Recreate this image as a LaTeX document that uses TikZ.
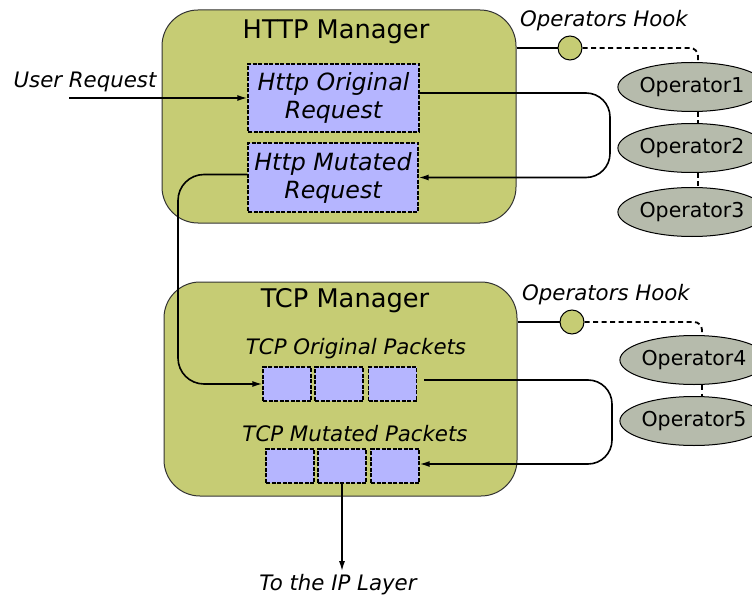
\documentclass[tikz,border=0pt]{standalone}
\usepackage{fontspec}
\setmainfont{DejaVu Sans}
\usetikzlibrary{shapes.geometric, arrows.meta}

\definecolor{olive}{RGB}{198,204,116}
\definecolor{lavender}{RGB}{181,181,255}
\definecolor{opgray}{RGB}{182,187,172}

\tikzset{
  manager/.style={rectangle, draw=black!80, fill=olive, line width=1pt, rounded corners=36pt},
  title/.style={font=\fontsize{25.7}{30}\selectfont},
  label/.style={font=\fontsize{21.3}{25}\selectfont\itshape},
  reqbox/.style={rectangle, draw=black, fill=lavender, line width=1.3pt, dash pattern=on 4pt off 1.5pt,
                 align=center, font=\fontsize{23.7}{28}\selectfont\itshape},
  pktbox/.style={rectangle, draw=black, fill=lavender, line width=1.3pt, dash pattern=on 4pt off 1.5pt,
                 minimum width=48pt, minimum height=34pt, inner sep=0pt},
  opnode/.style={ellipse, draw=black, fill=opgray, line width=1pt, minimum width=146pt,
                 minimum height=49pt, inner sep=0pt, font=\fontsize{20.5}{24}\selectfont},
  hook/.style={circle, draw=black, fill=olive, line width=1pt, minimum size=24pt, inner sep=0pt},
  hookline/.style={line width=1.8pt, dash pattern=on 5pt off 3.5pt, rounded corners=8pt},
  flow/.style={-{Latex[length=10pt,width=6pt]}, line width=1.6pt, rounded corners=24pt},
}

\begin{document}
\begin{tikzpicture}[x=1pt, y=-1pt]
    \useasboundingbox (0,0) rectangle (752,596);
    %managers
    \node[manager, minimum width=354pt, minimum height=213pt] (http) at (339,116.5) {};
    \node[title] (httptitle) at (336,32) {HTTP Manager};
    \node[manager, minimum width=353pt, minimum height=214pt] (tcp) at (340.5,389) {};
    \node[title] (tcptitle) at (345,301) {TCP Manager};

    %http requests
    \node[reqbox, minimum width=171pt, minimum height=68pt] (orig) at (333.5,98) {Http Original\\Request};
    \node[reqbox, minimum width=170pt, minimum height=69pt] (mut) at (333,177.5) {Http Mutated\\Request};

    %tcp packets
    \node[label] (origlbl) at (356,349) {TCP Original Packets};
    \node[pktbox] (o1) at (287,384) {};
    \node[pktbox] (o2) at (339,384) {};
    \node[pktbox] (o3) at (392.5,384) {};
    \node[label] (mutlbl) at (355,434) {TCP Mutated Packets};
    \node[pktbox] (m1) at (290,466) {};
    \node[pktbox] (m2) at (342,466) {};
    \node[pktbox] (m3) at (395,466) {};

    %operators
    \node[label] (hooklbl1) at (604,21) {Operators Hook};
    \node[hook] (hook1) at (570,48) {};
    \node[opnode] (op1) at (692,87) {Operator1};
    \node[opnode] (op2) at (692,148) {Operator2};
    \node[opnode] (op3) at (692,212) {Operator3};
    \node[label] (hooklbl2) at (606,295) {Operators Hook};
    \node[hook] (hook2) at (572,322) {};
    \node[opnode] (op4) at (694,360) {Operator4};
    \node[opnode] (op5) at (694,421) {Operator5};

    \node[label] (user) at (85,82) {User Request};
    \coordinate (userin) at (69,98);
    \node[label] (ip) at (338,585) {To the IP Layer};

    %hooks
    \draw[line width=2.2pt] (hook1 -| http.east) -- (hook1.west);
    \draw[hookline] (hook1.east) -| ([xshift=6pt]op1.north);
    \draw[hookline] ([xshift=6pt]op1.south) -- ([xshift=6pt]op2.north);
    \draw[hookline] ([xshift=6pt]op2.south) -- ([xshift=6pt]op3.north);
    \draw[line width=2.2pt] (hook2 -| tcp.east) -- (hook2.west);
    \draw[hookline] (hook2.east) -| ([xshift=8pt]op4.north);
    \draw[hookline] ([xshift=8pt]op4.south) -- ([xshift=8pt]op5.north);

    %flows
    \draw[flow] (userin) -- (orig.west);
    \draw[flow] ([yshift=5pt]orig.east) -- (610,93) -- (610,177.5) -- (mut.east);
    \draw[flow, rounded corners=26pt] ([yshift=3pt]mut.west) -- (178,174.5) -- (178,384) -- (o1.west);
    \draw[flow] ([xshift=7pt,yshift=4pt]o3.east) -- (612,380) -- (612,464) -- ([yshift=2pt]m3.east);
    \draw[flow] (m2.south) -- (m2.south |- ip.north);
\end{tikzpicture}
\end{document}
